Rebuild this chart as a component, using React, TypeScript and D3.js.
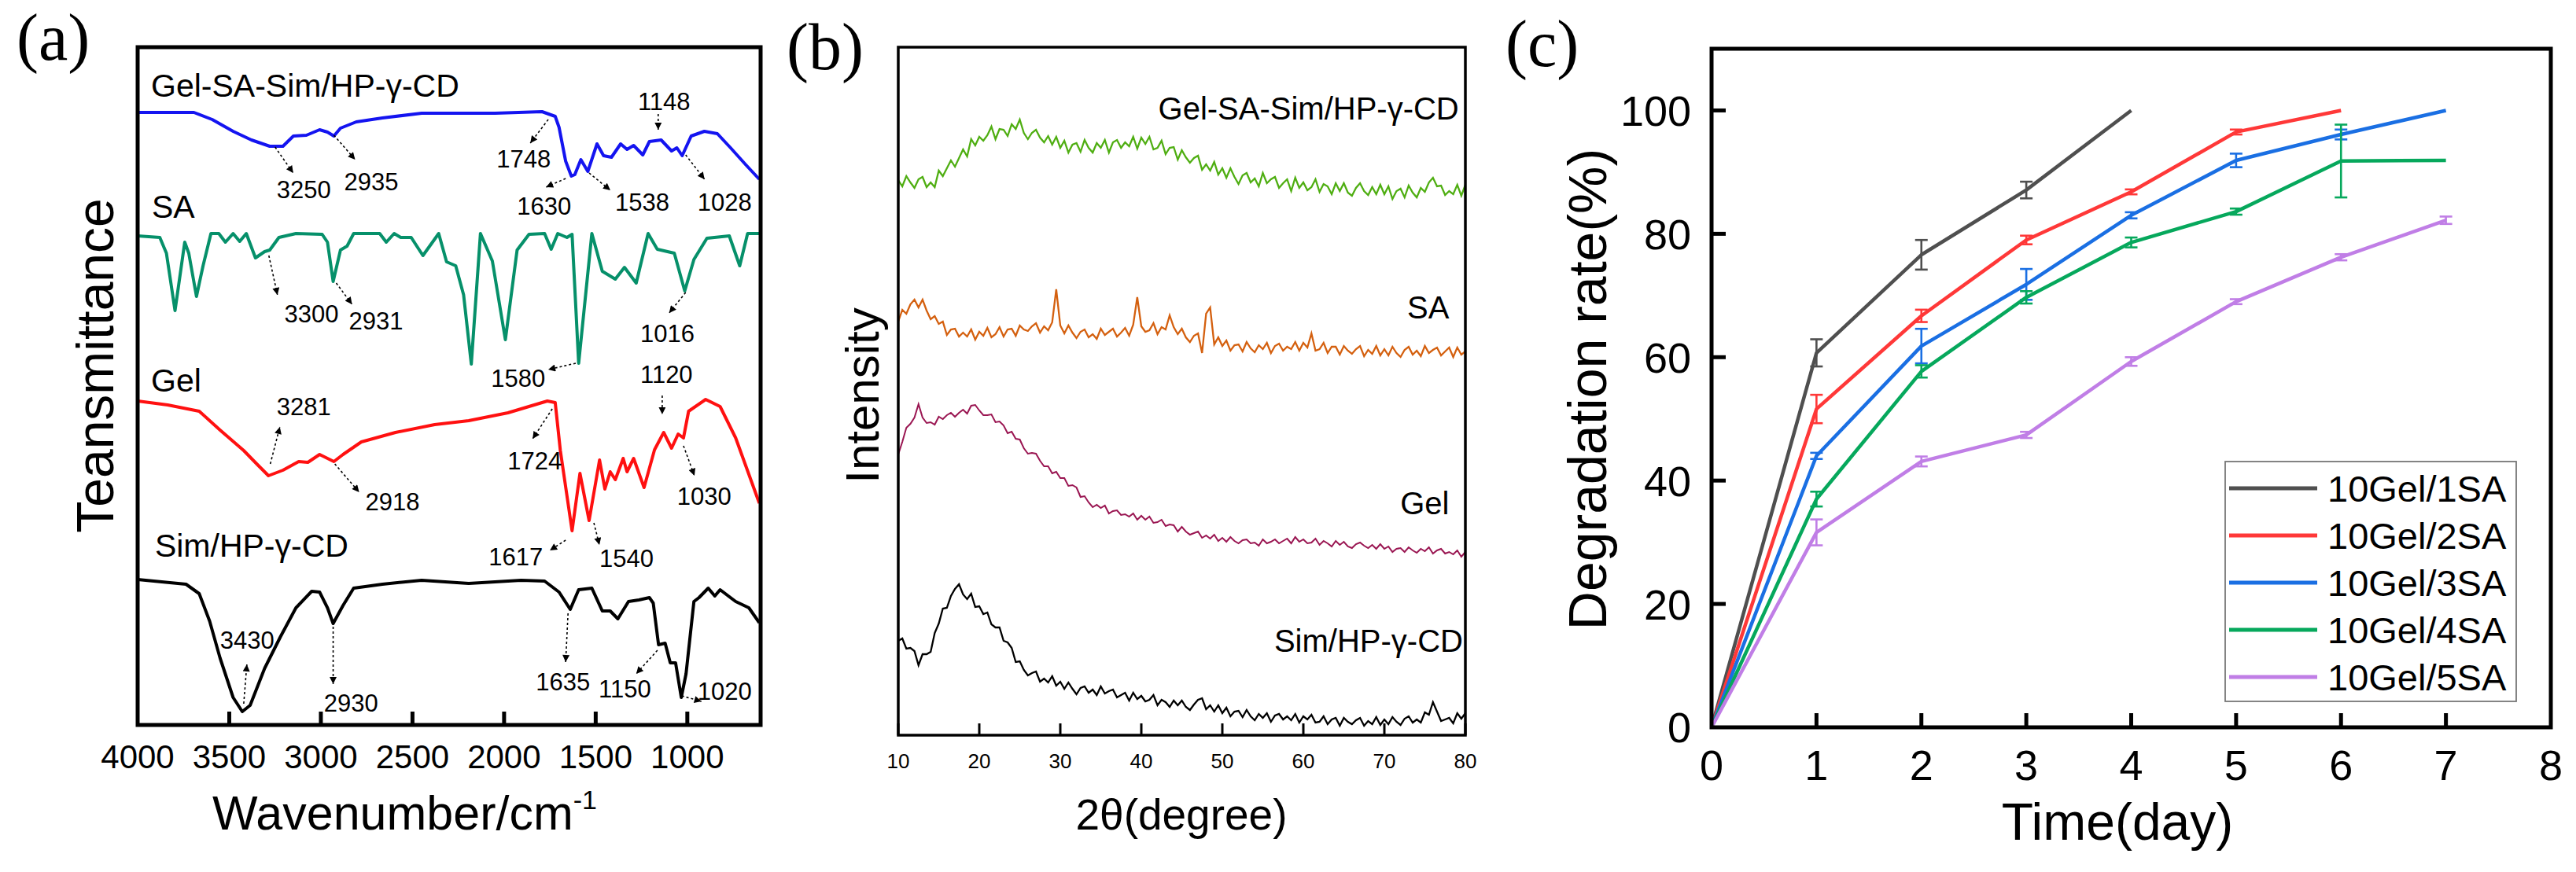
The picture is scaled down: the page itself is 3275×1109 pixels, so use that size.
import React from 'react';
import * as d3 from 'd3';

const W = 3275;
const H = 1109;
const SANS = "'Liberation Sans', Arial, sans-serif";
const SERIF = "'Liberation Serif', 'Times New Roman', serif";

// ---------------- Panel (a) FTIR ----------------
const ftirTicks = [4000, 3500, 3000, 2500, 2000, 1500, 1000];
const ftirNames = ['Gel-SA-Sim/HP-γ-CD', 'SA', 'Gel', 'Sim/HP-γ-CD'];
const ftirColors = ['#1414f0', '#06906a', '#ff1010', '#000000'];

const ftirGelSA: [number, number][] = [
  [4000, 779], [3693, 779], [3593, 770], [3479, 755], [3379, 744], [3279, 736], [3207, 736], [3150, 749],
  [3079, 750], [3007, 757], [2964, 754], [2929, 749], [2893, 759], [2807, 767], [2664, 772], [2450, 778],
  [2136, 778], [2050, 778], [1793, 780], [1721, 774], [1700, 760], [1664, 717], [1633, 698], [1614, 700],
  [1581, 719], [1543, 704], [1493, 739], [1457, 724], [1414, 722], [1364, 739], [1329, 732], [1293, 737],
  [1243, 725], [1207, 742], [1143, 744], [1086, 730], [1057, 734], [1028, 724], [979, 749], [907, 755],
  [836, 752], [764, 734], [679, 712], [607, 694],
];
const ftirSA: [number, number][] = [
  [4000, 622], [3879, 620], [3843, 600], [3796, 527], [3743, 614], [3721, 600], [3679, 545], [3643, 584],
  [3600, 625], [3557, 625], [3521, 614], [3479, 625], [3443, 615], [3407, 625], [3357, 594], [3307, 602],
  [3279, 604], [3229, 620], [3136, 625], [2993, 624], [2964, 614], [2933, 564], [2893, 604], [2857, 609],
  [2821, 625], [2679, 625], [2643, 614], [2600, 625], [2564, 620], [2507, 620], [2443, 597], [2357, 625],
  [2314, 589], [2264, 584], [2221, 547], [2179, 459], [2129, 625], [2064, 590], [1993, 490], [1929, 604],
  [1864, 624], [1779, 625], [1743, 605], [1707, 625], [1657, 620], [1629, 624], [1593, 460], [1521, 625],
  [1464, 577], [1393, 567], [1343, 582], [1279, 562], [1214, 625], [1164, 605], [1071, 600], [1014, 552],
  [964, 592], [893, 619], [771, 622], [714, 584], [671, 625], [607, 625],
];
const ftirGel: [number, number][] = [
  [4000, 412], [3836, 407], [3664, 399], [3550, 375], [3421, 349], [3350, 332], [3286, 317], [3207, 324],
  [3121, 335], [3071, 334], [3007, 344], [2929, 335], [2879, 344], [2779, 360], [2593, 372], [2379, 382],
  [2193, 387], [1979, 397], [1764, 412], [1721, 410], [1693, 349], [1629, 247], [1586, 320], [1536, 260],
  [1479, 337], [1450, 300], [1421, 322], [1393, 312], [1350, 339], [1329, 322], [1293, 339], [1236, 302],
  [1179, 350], [1129, 372], [1086, 352], [1050, 370], [1021, 365], [993, 399], [900, 414], [821, 405],
  [736, 365], [607, 282],
];
const ftirSim: [number, number][] = [
  [4000, 185], [3736, 179], [3664, 167], [3607, 132], [3550, 85], [3479, 35], [3429, 17], [3386, 25],
  [3307, 72], [3221, 112], [3136, 149], [3050, 170], [3007, 169], [2964, 149], [2933, 129], [2879, 152],
  [2821, 174], [2664, 179], [2450, 184], [2193, 180], [1907, 184], [1779, 183], [1700, 169], [1639, 147],
  [1593, 172], [1521, 174], [1464, 145], [1421, 145], [1379, 135], [1321, 157], [1264, 159], [1207, 162],
  [1186, 155], [1157, 102], [1121, 104], [1093, 79], [1064, 79], [1033, 35], [1007, 65], [964, 157],
  [936, 162], [886, 174], [850, 164], [821, 172], [736, 157], [664, 149], [607, 130],
];
const ftirSeries = [ftirGelSA, ftirSA, ftirGel, ftirSim];
// label positions (wavenumber, value) for sample names
const ftirNamePos: [number, number][] = [[3927, 799], [3923, 645], [3927, 424], [3906, 214]];

// peak annotations: text, label position, arrow from -> to
const ftirNotes: { t: string; x: number; y: number; a: [number, number, number, number] }[] = [
  { t: '3250', x: 3241, y: 670, a: [3250, 735, 3151, 702] },
  { t: '2935', x: 2873, y: 680, a: [2929, 750, 2813, 719] },
  { t: '1748', x: 2041, y: 709, a: [1759, 770, 1857, 740] },
  { t: '1630', x: 1930, y: 649, a: [1664, 695, 1771, 684] },
  { t: '1538', x: 1394, y: 654, a: [1536, 702, 1420, 680] },
  { t: '1148', x: 1270, y: 782, a: [1159, 777, 1159, 757] },
  { t: '1028', x: 944, y: 654, a: [1009, 725, 906, 694] },
  { t: '3300', x: 3199, y: 512, a: [3284, 597, 3237, 547] },
  { t: '2931', x: 2847, y: 503, a: [2916, 562, 2830, 535] },
  { t: '1580', x: 2071, y: 430, a: [1609, 460, 1759, 452] },
  { t: '1016', x: 1257, y: 487, a: [1009, 550, 1099, 524] },
  { t: '1120', x: 1257, y: 435, a: [1137, 419, 1137, 395] },
  { t: '3281', x: 3241, y: 394, a: [3276, 332, 3224, 379] },
  { t: '2918', x: 2757, y: 273, a: [2924, 332, 2791, 296] },
  { t: '1724', x: 1981, y: 325, a: [1737, 402, 1844, 364] },
  { t: '1617', x: 2084, y: 203, a: [1664, 235, 1750, 222] },
  { t: '1540', x: 1480, y: 201, a: [1510, 257, 1480, 229] },
  { t: '1030', x: 1056, y: 280, a: [1021, 355, 961, 317] },
  { t: '3430', x: 3550, y: 97, a: [3421, 27, 3404, 77] },
  { t: '2930', x: 2984, y: 17, a: [2933, 125, 2933, 52] },
  { t: '1635', x: 1827, y: 44, a: [1651, 142, 1664, 80] },
  { t: '1150', x: 1484, y: 35, a: [1163, 95, 1279, 65] },
  { t: '1020', x: 944, y: 32, a: [1030, 37, 923, 30] },
];

// ---------------- Panel (b) XRD ----------------
const xrdTicks = [10, 20, 30, 40, 50, 60, 70, 80];
const xrdNames = ['Gel-SA-Sim/HP-γ-CD', 'SA', 'Gel', 'Sim/HP-γ-CD'];
const xrdColors = ['#4fae12', '#d4600f', '#9a1652', '#000000'];
const xrdTheta = d3.range(0, 141).map((i) => 10 + i * 0.5);
const xrdGelSA = [
  706, 698, 711, 703, 696, 707, 710, 697, 703, 697, 718, 711, 721, 731, 723, 734, 745, 736, 758, 750,
  761, 756, 763, 774, 758, 771, 770, 762, 777, 771, 783, 766, 758, 766, 770, 760, 754, 762, 751, 761,
  747, 756, 741, 751, 753, 742, 757, 747, 741, 753, 747, 757, 741, 754, 757, 747, 754, 749, 761, 746,
  760, 752, 761, 745, 747, 756, 739, 747, 748, 732, 744, 735, 728, 734, 737, 719, 726, 718, 729, 713,
  721, 709, 721, 710, 701, 712, 715, 703, 708, 698, 715, 702, 707, 710, 696, 702, 707, 692, 709, 696,
  703, 693, 697, 707, 691, 701, 698, 688, 702, 692, 702, 690, 686, 696, 702, 692, 687, 697, 688, 700,
  688, 698, 682, 692, 695, 684, 699, 690, 684, 696, 691, 703, 709, 698, 699, 687, 692, 688, 700, 686,
  700,
];
const xrdSA = [
  526, 541, 536, 548, 554, 544, 554, 540, 529, 533, 523, 526, 509, 516, 517, 507, 512, 507, 516, 503,
  513, 508, 518, 506, 510, 519, 507, 516, 517, 508, 521, 516, 514, 520, 524, 512, 520, 515, 525, 567,
  521, 511, 521, 512, 505, 513, 516, 506, 510, 504, 517, 509, 513, 517, 507, 512, 518, 508, 522, 557,
  520, 513, 515, 524, 510, 519, 516, 534, 519, 510, 517, 506, 500, 508, 511, 486, 536, 544, 497, 506,
  495, 502, 489, 496, 497, 488, 500, 492, 487, 496, 491, 499, 486, 495, 498, 489, 494, 491, 500, 489,
  499, 493, 511, 489, 491, 499, 486, 494, 494, 484, 495, 489, 485, 491, 495, 482, 490, 485, 495, 483,
  491, 483, 494, 486, 481, 490, 494, 484, 489, 482, 495, 486, 490, 493, 483, 488, 493, 481, 493, 484,
  488,
];
const xrdGel = [
  357, 373, 391, 396, 404, 421, 404, 397, 398, 395, 405, 402, 407, 410, 405, 410, 414, 409, 419, 420,
  413, 407, 407, 408, 398, 399, 394, 384, 386, 377, 376, 365, 358, 359, 358, 349, 342, 342, 333, 335,
  327, 327, 317, 318, 315, 303, 304, 296, 290, 293, 289, 292, 282, 285, 286, 280, 281, 278, 282, 274,
  279, 274, 278, 270, 271, 274, 266, 268, 267, 259, 265, 259, 255, 257, 259, 251, 254, 250, 255, 247,
  251, 246, 252, 247, 244, 248, 249, 244, 245, 241, 249, 244, 246, 249, 244, 247, 250, 244, 252, 246,
  249, 244, 245, 250, 242, 247, 244, 240, 247, 242, 246, 240, 238, 243, 245, 241, 238, 242, 237, 243,
  237, 240, 233, 237, 238, 233, 239, 235, 232, 237, 234, 239, 231, 235, 237, 231, 233, 230, 235, 227,
  233,
];
const xrdSim = [
  120, 123, 110, 111, 107, 89, 103, 103, 106, 130, 142, 161, 162, 177, 186, 192, 179, 173, 180, 163,
  164, 154, 156, 141, 137, 137, 120, 118, 111, 93, 94, 83, 76, 79, 81, 68, 72, 67, 75, 63,
  68, 59, 67, 59, 52, 60, 62, 54, 58, 51, 62, 53, 56, 58, 48, 51, 54, 44, 54, 46,
  50, 43, 45, 51, 38, 45, 42, 36, 44, 38, 44, 36, 32, 39, 45, 47, 33, 38, 30, 38,
  28, 35, 24, 30, 31, 23, 32, 24, 19, 27, 22, 28, 17, 25, 27, 20, 24, 19, 27, 16,
  24, 20, 26, 16, 17, 24, 14, 20, 22, 12, 22, 17, 14, 19, 22, 12, 18, 14, 23, 13,
  20, 14, 23, 17, 13, 21, 24, 16, 20, 16, 29, 26, 42, 30, 18, 20, 22, 15, 28, 21,
  28,
];
const xrdSeries = [xrdGelSA, xrdSA, xrdGel, xrdSim];
const xrdNamePos: [number, number][] = [[79.2, 783], [78.0, 530], [78.0, 281], [79.7, 106]];

// ---------------- Panel (c) degradation ----------------
const degNames = ['10Gel/1SA', '10Gel/2SA', '10Gel/3SA', '10Gel/4SA', '10Gel/5SA'];
const degColors = ['#4f4f4f', '#ff3838', '#1a6fe3', '#06a85c', '#c07ee6'];
const degDays = [0, 1, 2, 3, 4, 5, 6, 7];
const deg1 = [0, 60.7, 76.6, 87.1, 100];
const deg2 = [0, 51.6, 66.7, 79.0, 86.8, 96.5, 100];
const deg3 = [0, 44.0, 61.8, 71.8, 83.0, 91.9, 96.1, 100];
const deg4 = [0, 37.0, 57.7, 69.7, 78.6, 83.6, 91.8, 91.9];
const deg5 = [0, 31.6, 43.1, 47.4, 59.3, 69.0, 76.2, 82.2];
const err1 = [0, 2.2, 2.4, 1.35, 0];
const err2 = [0, 2.3, 1.0, 0.7, 0.4, 0.4, 0];
const err3 = [0, 0.5, 2.8, 2.5, 0.5, 1.1, 0.8, 0];
const err4 = [0, 1.2, 1.0, 1.0, 0.8, 0.5, 5.9, 0];
const err5 = [0, 2.1, 0.8, 0.5, 0.7, 0.4, 0.5, 0.6];
const degSeries = [deg1, deg2, deg3, deg4, deg5];
const degErrors = [err1, err2, err3, err4, err5];
const degXTicks = [0, 1, 2, 3, 4, 5, 6, 7, 8];
const degYTicks = [0, 20, 40, 60, 80, 100];

function PanelA() {
  const x = d3.scaleLinear().domain([4000, 600]).range([175, 967]);
  const y = d3.scaleLinear().domain([0, 862]).range([922, 60]);
  const line = d3.line<[number, number]>().x((d) => x(d[0])).y((d) => y(d[1]));
  return (
    <g>
      {ftirSeries.map((s, i) => (
        <path key={i} d={line(s) || ''} fill="none" stroke={ftirColors[i]} strokeWidth={4} strokeLinejoin="round" />
      ))}
      {ftirNames.map((n, i) => (
        <text key={n + i} x={x(ftirNamePos[i][0])} y={y(ftirNamePos[i][1])} fontFamily={SANS} fontSize={41}>{n}</text>
      ))}
      {ftirNotes.map((n, i) => (
        <g key={'n' + i}>
          <line x1={x(n.a[0])} y1={y(n.a[1])} x2={x(n.a[2])} y2={y(n.a[3])} stroke="#000" strokeWidth={1.6}
            strokeDasharray="3 3" markerEnd="url(#ah)" />
          <text x={x(n.x)} y={y(n.y)} fontFamily={SANS} fontSize={31}>{n.t}</text>
        </g>
      ))}
      <rect x={175} y={60} width={792} height={862} fill="none" stroke="#000" strokeWidth={5} />
      {ftirTicks.map((t) => (
        <g key={t}>
          {t !== 4000 && <line x1={x(t)} x2={x(t)} y1={922} y2={905} stroke="#000" strokeWidth={5} />}
          <text x={x(t)} y={977} textAnchor="middle" fontFamily={SANS} fontSize={42}>{t}</text>
        </g>
      ))}
      <text x={270} y={1055} fontFamily={SANS} fontSize={61}>Wavenumber/cm<tspan dy={-26} fontSize={34}>-1</tspan></text>
      <text transform="translate(144,465) rotate(-90)" textAnchor="middle" fontFamily={SANS} fontSize={66}>Teansmittance</text>
      <text x={21} y={76} fontFamily={SERIF} fontSize={84}>(a)</text>
    </g>
  );
}

function PanelB() {
  const x = d3.scaleLinear().domain([10, 80]).range([1142, 1863]);
  const y = d3.scaleLinear().domain([0, 875]).range([935, 60]);
  const line = d3.line<number>().x((_, i) => x(xrdTheta[i])).y((d) => y(d));
  return (
    <g>
      {xrdSeries.map((s, i) => (
        <path key={i} d={line(s) || ''} fill="none" stroke={xrdColors[i]} strokeWidth={i === 2 ? 2 : 2.3} strokeLinejoin="miter" />
      ))}
      {xrdNames.map((n, i) => (
        <text key={n + i} x={x(xrdNamePos[i][0])} y={y(xrdNamePos[i][1])} textAnchor="end" fontFamily={SANS} fontSize={40}>{n}</text>
      ))}
      <rect x={1142} y={60} width={721} height={875} fill="none" stroke="#000" strokeWidth={3.5} />
      {xrdTicks.map((t) => (
        <g key={t}>
          <line x1={x(t)} x2={x(t)} y1={935} y2={920} stroke="#000" strokeWidth={3} />
          <text x={x(t)} y={977} textAnchor="middle" fontFamily={SANS} fontSize={26}>{t}</text>
        </g>
      ))}
      <text x={1502} y={1055} textAnchor="middle" fontFamily={SANS} fontSize={55}>2θ(degree)</text>
      <text transform="translate(1117,503) rotate(-90)" textAnchor="middle" fontFamily={SANS} fontSize={60}>Intensity</text>
      <text x={1000} y={88} fontFamily={SERIF} fontSize={84}>(b)</text>
    </g>
  );
}

function PanelC() {
  const x = d3.scaleLinear().domain([0, 8]).range([2176, 3243]);
  const y = d3.scaleLinear().domain([0, 110]).range([925, 62]);
  const line = d3.line<number>().x((_, i) => x(degDays[i])).y((d) => y(d));
  return (
    <g>
      {degSeries.map((s, i) => (
        <g key={i}>
          <path d={line(s) || ''} fill="none" stroke={degColors[i]} strokeWidth={4.5} strokeLinejoin="round" />
          {s.map((v, j) => {
            const e = degErrors[i][j];
            if (!e) return null;
            const cx = x(degDays[j]);
            return (
              <g key={j} stroke={degColors[i]} strokeWidth={2.6}>
                <line x1={cx} x2={cx} y1={y(v - e)} y2={y(v + e)} />
                <line x1={cx - 8} x2={cx + 8} y1={y(v - e)} y2={y(v - e)} />
                <line x1={cx - 8} x2={cx + 8} y1={y(v + e)} y2={y(v + e)} />
              </g>
            );
          })}
        </g>
      ))}
      <rect x={2176} y={62} width={1067} height={863} fill="none" stroke="#000" strokeWidth={5} />
      {degXTicks.map((t) => (
        <g key={'x' + t}>
          {t > 0 && t < 8 && <line x1={x(t)} x2={x(t)} y1={925} y2={907} stroke="#000" strokeWidth={5} />}
          <text x={x(t)} y={992} textAnchor="middle" fontFamily={SANS} fontSize={54}>{t}</text>
        </g>
      ))}
      {degYTicks.map((t) => (
        <g key={'y' + t}>
          {t > 0 && <line x1={2176} x2={2194} y1={y(t)} y2={y(t)} stroke="#000" strokeWidth={5} />}
          <text x={2150} y={y(t)} dy="0.36em" textAnchor="end" fontFamily={SANS} fontSize={54}>{t}</text>
        </g>
      ))}
      <rect x={2829} y={587} width={370} height={305} fill="#fff" stroke="#777" strokeWidth={1.8} />
      {degNames.map((n, i) => (
        <g key={n}>
          <line x1={2834} x2={2946} y1={621 + i * 60} y2={621 + i * 60} stroke={degColors[i]} strokeWidth={5} />
          <text x={2959} y={621 + i * 60} dy="0.36em" fontFamily={SANS} fontSize={47}>{n}</text>
        </g>
      ))}
      <text x={2692} y={1068} textAnchor="middle" fontFamily={SANS} fontSize={66}>Time(day)</text>
      <text transform="translate(2042,495) rotate(-90)" textAnchor="middle" fontFamily={SANS} fontSize={68}>Degradation rate(%)</text>
      <text x={1914} y={84} fontFamily={SERIF} fontSize={84}>(c)</text>
    </g>
  );
}

export default function App() {
  return (
    <svg width={W} height={H} viewBox={`0 0 ${W} ${H}`} style={{ position: 'absolute', left: 0, top: 0, background: '#fff' }}>
      <defs>
        <marker id="ah" viewBox="0 0 10 10" refX="10" refY="5" markerWidth="13" markerHeight="9"
          markerUnits="userSpaceOnUse" orient="auto">
          <path d="M0,0 L10,5 L0,10 z" fill="#000" />
        </marker>
      </defs>
      <rect x={0} y={0} width={W} height={H} fill="#fff" />
      <PanelA />
      <PanelB />
      <PanelC />
    </svg>
  );
}
